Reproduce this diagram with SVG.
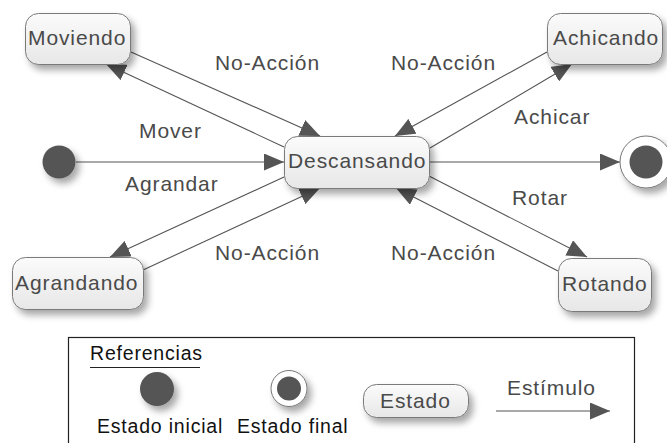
<svg xmlns="http://www.w3.org/2000/svg" width="667" height="443" viewBox="0 0 667 443">
<defs>
<linearGradient id="ng" x1="0" y1="0" x2="0" y2="1">
<stop offset="0" stop-color="#fbfbfb"/>
<stop offset="1" stop-color="#e7e7e7"/>
</linearGradient>
<filter id="sh" x="-30%" y="-30%" width="170%" height="180%">
<feDropShadow dx="4" dy="5" stdDeviation="3.5" flood-color="#000" flood-opacity="0.35"/>
</filter>
<marker id="ah" viewBox="0 0 20 17" refX="20" refY="8.5" markerWidth="20" markerHeight="17" markerUnits="userSpaceOnUse" orient="auto">
<path d="M0,0 L20,8.5 L0,17 Z" fill="#555"/>
</marker>
</defs>
<style>
.node rect{fill:url(#ng);stroke:#7a7a7a;stroke-width:1;filter:url(#sh)}
.lbl{font-family:"Liberation Sans",Arial,sans-serif;font-size:21px;fill:#4a4a4a;letter-spacing:0.9px}
.leg{font-family:"Liberation Sans",Arial,sans-serif;font-size:19.5px;fill:#111;letter-spacing:0.8px}
.edge{stroke:#555;stroke-width:1.1;fill:none;marker-end:url(#ah)}
.dot{fill:#555;filter:url(#sh)}
</style>
<rect width="667" height="443" fill="#fff"/>

<g id="connectors">
<path class="edge" d="M131,52 L320,136"/>
<path class="edge" d="M284,147 L106,64"/>
<path class="edge" d="M547,52 L395,136"/>
<path class="edge" d="M430,148 L572,64"/>
<path class="edge" d="M76,162 L284,162"/>
<path class="edge" d="M429,162 L620,162"/>
<path class="edge" d="M284,177 L110,257"/>
<path class="edge" d="M143,270 L320,188"/>
<path class="edge" d="M429,176 L587,257"/>
<path class="edge" d="M558,271 L396,188"/>
</g>

<g id="edge-labels">
<text class="lbl" x="215" y="70">No-Acción</text>
<text class="lbl" x="391" y="70">No-Acción</text>
<text class="lbl" x="514" y="124">Achicar</text>
<text class="lbl" x="139" y="138">Mover</text>
<text class="lbl" x="125" y="191">Agrandar</text>
<text class="lbl" x="512" y="205">Rotar</text>
<text class="lbl" x="215" y="260">No-Acción</text>
<text class="lbl" x="391" y="260">No-Acción</text>
</g>

<g id="moviendo" class="node">
<rect x="25.5" y="13.5" width="105" height="51" rx="13"/>
<text class="lbl" x="28" y="45">Moviendo</text>
</g>
<g id="achicando" class="node">
<rect x="547.5" y="13.5" width="115" height="51" rx="13"/>
<text class="lbl" x="553" y="45">Achicando</text>
</g>
<g id="descansando" class="node">
<rect x="284.5" y="136.5" width="145" height="52" rx="13"/>
<text class="lbl" x="288" y="168">Descansando</text>
</g>
<g id="agrandando" class="node">
<rect x="12.5" y="257.5" width="131" height="52" rx="13"/>
<text class="lbl" x="15" y="290">Agrandando</text>
</g>
<g id="rotando" class="node">
<rect x="558.5" y="258.5" width="93" height="53" rx="13"/>
<text class="lbl" x="562" y="291">Rotando</text>
</g>
<g id="inicial">
<circle class="dot" cx="59" cy="162" r="16.5"/>
</g>
<g id="final">
<circle cx="646" cy="162" r="26" fill="#fff" stroke="#777" stroke-width="1" filter="url(#sh)"/>
<circle cx="646" cy="162" r="16.5" fill="#555"/>
</g>

<g id="legend">
<rect x="68.5" y="337.5" width="566" height="130" fill="#fff" stroke="#222" stroke-width="1.2"/>
<text class="leg" x="90" y="360">Referencias</text>
<line x1="90" y1="367.5" x2="200" y2="367.5" stroke="#222" stroke-width="1.2"/>
<circle class="dot" cx="157" cy="389" r="17"/>
<circle cx="289" cy="388.5" r="18" fill="#fff" stroke="#777" stroke-width="1" filter="url(#sh)"/>
<circle cx="289" cy="388.5" r="12" fill="#555"/>
<text class="leg" x="97" y="433">Estado inicial</text>
<text class="leg" x="237" y="433">Estado final</text>
<g id="legend-estado" class="node">
<rect x="363.5" y="384.5" width="105" height="33" rx="13"/>
<text class="lbl" x="380" y="408">Estado</text>
</g>
<text class="lbl" x="507" y="395">Estímulo</text>
<path class="edge" d="M496,411 L610,411"/>
</g>
</svg>
